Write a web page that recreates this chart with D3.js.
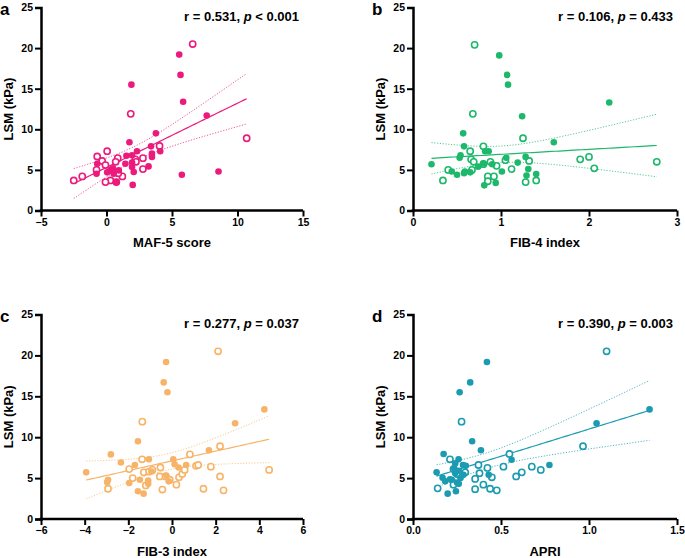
<!DOCTYPE html>
<html>
<head>
<meta charset="utf-8">
<script src="https://cdn.jsdelivr.net/npm/d3@7"></script>
<style>
  body { margin: 0; background: #fff; }
  svg { display: block; font-family: "Liberation Sans", Arial, sans-serif; }
</style>
</head>
<body>
<svg id="chart" width="685" height="558"></svg>
<script>
// LSM (kPa) against four scores, filled = one group, open = other group

// a: MAF-5 score
const mafFilled = [[5.55,19.2],[5.65,16.7],[1.9,15.5],[5.85,13.4],[7.65,11.7],[3.77,9.5],[1.75,8.4],[3.4,7.9],[4.1,7.3],[2.33,7.3],[3.47,7.0],[3.47,6.6],[1.52,6.75],[1.95,6.8],[-0.71,5.76],[1.44,5.76],[3.21,5.43],[1.95,5.35],[2.08,4.75],[-0.76,4.53],[0.3,4.94],[0.55,4.53],[0.76,3.5],[2.0,3.15],[0.94,4.94],[5.75,4.4],[8.55,4.8],[0.05,4.7],[1.95,5.9],[0.5,5.2]];
const mafOpen = [[6.58,20.5],[1.85,11.9],[10.7,8.9],[4.05,7.95],[0.05,7.3],[-0.71,6.65],[0.86,6.45],[2.78,6.45],[2.2,6.3],[-0.33,6.1],[0.7,6.0],[-0.08,5.6],[-0.76,5.0],[-1.85,4.2],[-2.5,3.7],[2.78,5.1],[1.21,4.2],[0.3,3.7],[-0.08,3.5],[0.75,3.5],[0.9,4.6],[2.25,6.0],[0.4,5.0]];

// b: FIB-4 index
const fib4Filled = [[0.98,19.1],[1.07,16.7],[1.08,15.5],[2.23,13.3],[1.24,11.6],[1.60,8.4],[0.57,9.5],[0.58,7.9],[0.82,7.3],[0.54,6.8],[0.53,6.5],[1.06,6.5],[1.28,6.6],[0.21,5.7],[0.44,4.8],[0.50,4.4],[0.58,4.6],[0.59,4.8],[0.74,5.4],[0.80,5.8],[0.90,5.7],[1.19,5.9],[1.01,4.8],[1.31,5.1],[1.29,4.3],[1.40,4.5],[0.81,3.1],[0.94,3.4],[0.65,4.7],[0.86,7.3]];
const fib4Open = [[0.70,20.4],[0.68,11.9],[1.25,8.9],[0.80,7.9],[0.65,7.3],[0.66,6.3],[0.69,6.0],[1.05,6.2],[1.32,6.1],[1.90,6.3],[2.0,6.6],[2.77,6.0],[2.06,5.2],[1.12,5.1],[0.95,5.5],[0.80,5.7],[0.40,5.0],[0.34,3.7],[0.85,4.2],[0.92,4.2],[0.85,3.6],[1.28,3.5],[1.40,3.7],[0.88,6.0],[0.67,5.0]];

// c: FIB-3 index
const fib3Filled = [[-0.27,19.2],[-0.38,16.7],[-0.21,15.5],[4.23,13.4],[2.89,11.7],[-1.56,9.5],[-2.8,7.9],[1.69,8.4],[-1.06,7.3],[0.06,7.3],[-2.34,6.9],[-1.7,6.6],[0.12,6.7],[0.65,6.6],[-3.93,5.7],[-2.93,4.8],[-2.97,4.5],[-1.96,4.4],[-1.47,4.8],[-1.09,4.7],[-1.09,4.3],[-1.56,3.4],[-1.30,3.1],[-0.94,5.8],[-0.26,5.3],[-0.15,4.6],[0.3,6.3]];
const fib3Open = [[2.11,20.5],[-1.36,11.9],[2.2,8.9],[0.82,7.9],[-1.37,7.3],[-0.53,6.3],[1.1,6.5],[1.2,6.6],[1.78,6.4],[4.45,6.0],[2.2,5.2],[-1.96,6.1],[-1.8,5.0],[-2.93,3.7],[-0.44,3.6],[0.2,4.2],[-1.2,4.1],[1.44,3.7],[2.36,3.5],[-1.29,5.7],[-1.05,5.8],[-0.9,6.0],[-0.56,5.2],[-0.3,5.2],[-0.1,4.8],[0.32,5.1],[0.47,5.5],[0.58,6.0]];

// d: APRI
const apriFilled = [[0.42,19.2],[0.325,16.7],[0.265,15.5],[1.344,13.4],[1.043,11.7],[0.336,9.5],[0.386,8.4],[0.174,7.95],[0.259,7.3],[0.56,7.25],[0.775,6.6],[0.134,5.7],[0.43,5.4],[0.197,3.1],[0.244,3.4],[0.24,6.8],[0.284,6.6],[0.234,6.2],[0.287,5.4],[0.168,5.05],[0.183,4.6],[0.21,4.85],[0.25,4.45],[0.27,5.0],[0.22,4.8],[0.26,5.9],[0.30,6.5],[0.26,4.3],[0.24,5.6]];
const apriOpen = [[1.10,20.5],[0.276,11.9],[0.966,8.9],[0.548,7.95],[0.21,7.3],[0.372,6.6],[0.423,6.25],[0.514,6.4],[0.675,6.4],[0.618,5.7],[0.726,6.0],[0.586,5.2],[0.378,5.6],[0.353,4.9],[0.448,5.1],[0.297,5.7],[0.14,3.75],[0.353,3.65],[0.40,4.2],[0.438,3.7],[0.476,3.5],[0.23,4.2],[0.23,6.1],[0.25,5.5]];

const yTicks = [0, 5, 10, 15, 20, 25];
const panelLetters = ['a', 'b', 'c', 'd'];
const xTitles = ['MAF-5 score', 'FIB-4 index', 'FIB-3 index', 'APRI'];
const rTexts = ['0.531', '0.106', '0.277', '0.390'];
const pTexts = ['< 0.001', '= 0.433', '= 0.037', '= 0.003'];
const xDomains = [[-5, 15], [0, 3], [-6, 6], [0, 1.5]];
const xTickVals = [[-5, 0, 5, 10, 15], [0, 1, 2, 3], [-6, -4, -2, 0, 2, 4, 6], [0, 0.5, 1, 1.5]];

const colors = ['#ec1a7c', '#1db86b', '#f7b468', '#1a9bb1'];
const filledSets = [mafFilled, fib4Filled, fib3Filled, apriFilled];
const openSets = [mafOpen, fib4Open, fib3Open, apriOpen];

// layout of each panel box (plot area)
const boxes = [
  {l: 41, r: 303, t: 7.5, b: 210.5},
  {l: 413, r: 677, t: 7.5, b: 210.5},
  {l: 41, r: 303, t: 314.5, b: 519},
  {l: 413, r: 677, t: 314.5, b: 519}
];

const svg = d3.select('#chart');

function regression(pts){
  const n = pts.length;
  const mx = d3.mean(pts, d => d[0]), my = d3.mean(pts, d => d[1]);
  let sxx = 0, sxy = 0;
  pts.forEach(d => { sxx += (d[0]-mx)**2; sxy += (d[0]-mx)*(d[1]-my); });
  const b = sxy / sxx, a = my - b*mx;
  let sse = 0;
  pts.forEach(d => { sse += (d[1] - (a + b*d[0]))**2; });
  const s = Math.sqrt(sse / (n - 2));
  const t = 2.005;
  return {a, b, mx, sxx, n, s, t};
}

boxes.forEach((box, i) => {
  const g = svg.append('g');
  const x = d3.scaleLinear().domain(xDomains[i]).range([box.l, box.r]);
  const y = d3.scaleLinear().domain([0, 25]).range([box.b, box.t]);
  const col = colors[i];
  const all = filledSets[i].concat(openSets[i]);

  // regression line + 95% CI
  const reg = regression(all);
  const [x0, x1] = d3.extent(all, d => d[0]);
  const xs = d3.range(0, 61).map(k => x0 + (x1 - x0) * k / 60);
  const fit = xs.map(v => [v, reg.a + reg.b*v]);
  const band = v => reg.t * reg.s * Math.sqrt(1/reg.n + (v - reg.mx)**2 / reg.sxx);
  const hi = xs.map(v => [v, reg.a + reg.b*v + band(v)]);
  const lo = xs.map(v => [v, reg.a + reg.b*v - band(v)]);
  const line = d3.line().x(d => x(d[0])).y(d => y(d[1]));

  [hi, lo].forEach(c => g.append('path').attr('d', line(c))
    .attr('fill', 'none').attr('stroke', col).attr('stroke-width', 1)
    .attr('stroke-opacity', 0.75).attr('stroke-dasharray', '1.2,1.6'));
  g.append('path').attr('d', line(fit))
    .attr('fill', 'none').attr('stroke', col).attr('stroke-width', 1.2);

  // points
  g.selectAll('circle.open').data(openSets[i]).enter().append('circle')
    .attr('class', 'open').attr('cx', d => x(d[0])).attr('cy', d => y(d[1]))
    .attr('r', 3.1).attr('fill', '#fff').attr('stroke', col).attr('stroke-width', 1.6);
  g.selectAll('circle.filled').data(filledSets[i]).enter().append('circle')
    .attr('class', 'filled').attr('cx', d => x(d[0])).attr('cy', d => y(d[1]))
    .attr('r', 3.3).attr('fill', col);

  // axes
  const fmt = i === 3 ? d3.format('.1f') : d3.format('d');
  const xa = g.append('g').attr('transform', `translate(0,${box.b})`)
    .call(d3.axisBottom(x).tickValues(xTickVals[i]).tickFormat(fmt).tickSizeOuter(0).tickSize(6).tickPadding(2));
  const ya = g.append('g').attr('transform', `translate(${box.l},0)`)
    .call(d3.axisLeft(y).tickValues(yTicks).tickSizeOuter(0).tickSize(6).tickPadding(2));
  [xa, ya].forEach(ax => {
    ax.select('.domain').attr('stroke', '#000').attr('stroke-width', 2.5);
    ax.selectAll('.tick line').attr('stroke', '#000').attr('stroke-width', 2);
    ax.selectAll('.tick text').attr('fill', '#000').attr('font-size', 10.5)
      .attr('font-weight', 'bold').attr('font-family', '"Liberation Sans", Arial, sans-serif');
  });
  // extend axis lines so they meet at the corner
  xa.select('.domain').attr('d', `M${box.l - 1.25},0H${box.r}`);

  // titles
  const cy = (box.t + box.b) / 2;
  g.append('text').attr('transform', `translate(${box.l - 28},${cy}) rotate(-90)`)
    .attr('text-anchor', 'middle').attr('font-size', 13).attr('font-weight', 'bold')
    .text('LSM (kPa)');
  g.append('text').attr('x', (box.l + box.r) / 2).attr('y', box.b + 36.5)
    .attr('text-anchor', 'middle').attr('font-size', 13).attr('font-weight', 'bold')
    .text(xTitles[i]);
  g.append('text').attr('x', box.l - 41).attr('y', box.t + 7)
    .attr('font-size', 17).attr('font-weight', 'bold').text(panelLetters[i]);

  const ann = g.append('text').attr('x', box.r - 4).attr('y', box.t + 13)
    .attr('text-anchor', 'end').attr('font-size', 13).attr('font-weight', 'bold');
  ann.append('tspan').text(`r = ${rTexts[i]}, `);
  ann.append('tspan').attr('font-style', 'italic').text('p');
  ann.append('tspan').text(` ${pTexts[i]}`);
});
</script>
</body>
</html>
